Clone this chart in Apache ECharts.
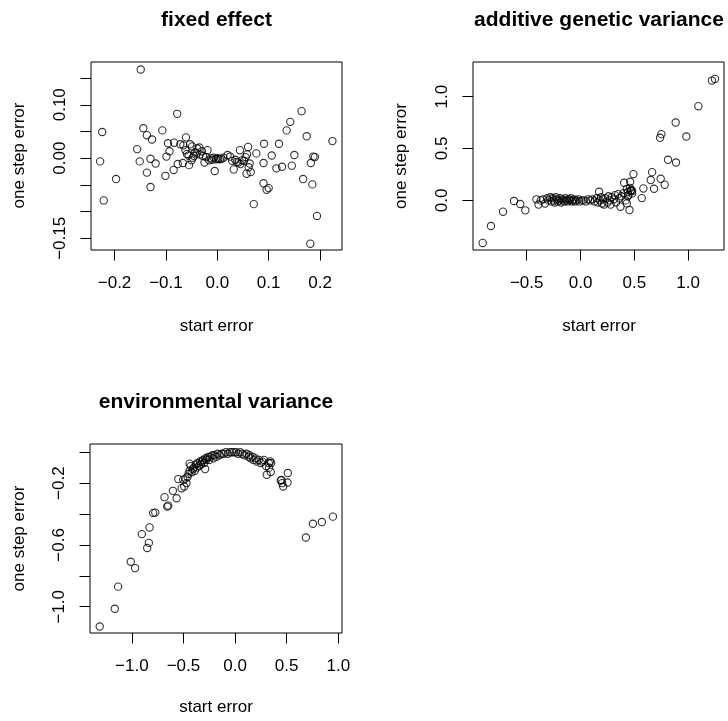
<!DOCTYPE html>
<html>
<head>
<meta charset="utf-8">
<script src="https://cdn.jsdelivr.net/npm/echarts@6/dist/echarts.min.js"></script>
<style>
html,body{margin:0;padding:0;background:#fff;}
#main{width:728px;height:721px;}
</style>
</head>
<body>
<div id="main"></div>
<script>
// ---------- DATA ----------
const titles = ["fixed effect", "additive genetic variance", "environmental variance"];
const xLabelText = "start error";
const yLabelText = "one step error";

// Panel 1: fixed effect
const fixedX = [-0.149,-0.228,-0.224,-0.221,-0.197,-0.156,-0.151,-0.144,-0.137,-0.137,-0.130,-0.130,-0.127,-0.120,-0.107,-0.101,-0.099,-0.096,-0.093,-0.085,-0.084,-0.078,-0.077,-0.072,-0.067,-0.066,-0.061,-0.059,-0.055,-0.053,-0.049,-0.048,-0.043,-0.039,-0.035,-0.034,-0.030,-0.025,-0.022,-0.019,-0.016,-0.012,-0.005,-0.003,0.002,0.005,0.020,0.025,0.029,0.032,0.038,0.044,0.045,0.052,0.057,0.060,0.058,0.061,0.065,0.071,0.076,0.090,0.090,0.091,0.096,0.100,0.106,0.115,0.120,0.126,0.135,0.142,0.145,0.150,0.164,0.167,0.174,0.181,0.182,0.185,0.187,0.190,0.194,0.224,-0.045,-0.040,-0.028,-0.010,-0.007,0.000,0.008,0.012,0.035,0.041,0.048,0.055,-0.056,-0.050,-0.062,0.063];
const fixedY = [0.166,-0.006,0.049,-0.079,-0.039,0.017,-0.006,0.056,-0.027,0.043,-0.001,-0.054,0.035,-0.010,0.052,-0.033,0.003,0.028,0.013,-0.022,0.029,0.083,-0.011,0.026,-0.009,0.024,0.039,0.008,-0.013,0.026,0.022,0.001,0.011,0.018,0.020,0.007,0.013,-0.008,0.002,0.015,-0.004,0.000,-0.024,-0.002,-0.001,-0.002,0.006,0.003,-0.005,-0.021,-0.007,0.015,-0.011,-0.005,-0.029,0.021,0.007,-0.017,-0.026,-0.086,0.009,-0.047,-0.009,0.027,-0.059,-0.056,0.005,-0.019,0.027,-0.016,0.052,0.068,-0.014,0.006,0.088,-0.039,0.041,-0.160,-0.009,-0.049,0.003,0.002,-0.108,0.032,0.004,0.009,0.004,-0.003,0.001,0.000,-0.001,0.001,-0.003,-0.008,-0.004,0.002,0.005,-0.004,0.015,-0.010];

// Panel 2: additive genetic variance
const addX = [-0.909,-0.832,-0.720,-0.618,-0.560,-0.513,0.173,0.371,0.405,0.430,0.445,0.455,0.461,0.492,0.467,0.479,0.569,0.584,0.665,0.652,0.683,0.745,0.782,0.739,0.751,0.813,0.884,0.887,0.983,1.095,1.221,1.249,
  -0.41,-0.39,-0.37,-0.35,-0.33,-0.31,-0.30,-0.28,-0.27,-0.26,-0.25,-0.24,-0.23,-0.22,-0.21,-0.20,-0.19,-0.18,-0.17,-0.16,-0.15,-0.14,-0.13,-0.12,-0.11,-0.10,-0.09,-0.08,-0.07,-0.06,-0.05,-0.04,-0.02,-0.01,0.01,0.03,0.05,0.07,0.09,0.11,0.13,0.15,0.16,0.18,0.19,0.20,0.21,0.22,0.23,0.25,0.26,0.27,0.28,0.29,0.31,0.32,0.33,0.35,0.36,0.38,0.40,0.42,0.43,0.44,0.46,0.47,0.48,0.44];
const addY = [-0.410,-0.247,-0.109,-0.006,-0.035,-0.096,0.083,-0.061,0.170,-0.029,0.051,-0.093,0.179,0.253,0.090,0.067,0.022,0.115,0.272,0.196,0.112,0.208,0.151,0.603,0.638,0.391,0.750,0.365,0.615,0.907,1.154,1.170,
  0.01,-0.04,0.00,0.01,-0.03,0.02,0.00,0.03,-0.01,0.02,0.00,-0.02,0.03,0.01,-0.01,0.00,0.02,-0.02,0.01,0.00,-0.01,0.02,0.00,-0.01,0.01,0.00,0.02,-0.01,0.00,0.01,-0.01,0.00,0.01,-0.01,0.00,0.00,-0.01,0.01,0.00,0.01,-0.01,0.02,-0.02,0.00,0.03,-0.03,0.01,-0.04,0.02,-0.02,0.04,0.00,-0.04,0.03,0.01,0.05,-0.02,0.06,0.02,0.04,0.07,0.00,0.11,0.08,0.12,0.10,0.09,0.04];

// Panel 3: environmental variance
const envX = [-1.311,-1.165,-1.133,-1.010,-0.968,-0.903,-0.835,-0.851,-0.828,-0.793,-0.773,-0.683,-0.657,-0.647,-0.602,-0.566,-0.550,-0.518,-0.502,-0.492,0.265,0.307,0.327,0.346,0.443,0.456,0.466,0.511,0.508,0.686,0.754,0.841,0.948,
  -0.48,-0.47,-0.46,-0.45,-0.44,-0.43,-0.42,-0.41,-0.40,-0.39,-0.38,-0.37,-0.36,-0.35,-0.34,-0.33,-0.32,-0.31,-0.30,-0.29,-0.28,-0.27,-0.26,-0.25,-0.24,-0.22,-0.21,-0.20,-0.18,-0.17,-0.15,-0.13,-0.11,-0.09,-0.07,-0.05,-0.03,-0.01,0.01,0.03,0.05,0.07,0.09,0.11,0.13,0.14,0.15,0.17,0.18,0.20,0.21,0.23,0.25,-0.44,-0.29,0.28,0.30,0.33,0.35,0.34,0.45];
const envY = [-1.128,-1.013,-0.870,-0.709,-0.750,-0.530,-0.587,-0.620,-0.487,-0.393,-0.391,-0.291,-0.352,-0.346,-0.250,-0.298,-0.174,-0.233,-0.178,-0.222,-0.061,-0.146,-0.070,-0.128,-0.183,-0.200,-0.222,-0.135,-0.196,-0.552,-0.463,-0.452,-0.417,
  -0.17,-0.20,-0.16,-0.14,-0.12,-0.09,-0.13,-0.11,-0.10,-0.12,-0.08,-0.10,-0.07,-0.09,-0.06,-0.08,-0.06,-0.05,-0.07,-0.04,-0.05,-0.04,-0.03,-0.05,-0.03,-0.02,-0.04,-0.02,-0.03,-0.01,-0.02,-0.01,-0.01,0.00,-0.01,0.00,0.00,0.00,0.00,-0.01,0.00,-0.01,-0.02,-0.01,-0.03,-0.02,-0.04,-0.03,-0.05,-0.04,-0.06,-0.05,-0.07,-0.074,-0.109,-0.05,-0.09,-0.10,-0.07,-0.06,-0.18];

// Tick values and labels
const fixedXTicks = [-0.2,-0.1,0.0,0.1,0.2];
const fixedXLabels = [-0.2,-0.1,0.0,0.1,0.2];
const fixedYTicks = [-0.15,-0.10,-0.05,0.00,0.05,0.10,0.15];
const fixedYLabels = [-0.15,0.00,0.10];
const addXTicks = [-0.5,0.0,0.5,1.0];
const addYTicks = [0.0,0.5,1.0];
const envXTicks = [-1.0,-0.5,0.0,0.5,1.0];
const envYTicks = [0.0,-0.2,-0.4,-0.6,-0.8,-1.0];
const envYLabels = [-0.2,-0.6,-1.0];

// Axis extents (R style: data range +4%)
const fixedXRange = [-0.2458, 0.2427], fixedYRange = [-0.1718, 0.180];
const addXRange = [-0.999, 1.333], addYRange = [-0.478, 1.333];
const envXRange = [-1.405, 1.036], envYRange = [-1.170, 0.053];

// ---------- CHART ----------
const FONT = "'Liberation Sans', Arial, Helvetica, sans-serif";
const LBL = 17, TTL = 21;
function zip(a, b) { return a.map((v, i) => [v, b[i]]); }
function fmt(dec) {
  return v => { const s = Math.abs(v).toFixed(dec); return (v < -1e-9 ? '\u2212' : '') + s; };
}
const grids = [
  {left: 91, top: 62, width: 251, height: 188},
  {left: 473, top: 62, width: 251, height: 188},
  {left: 90, top: 444, width: 252, height: 189}
];
function xAx(i, rng, ticks, labels, dec) {
  return {
    type: 'value', gridIndex: i, min: rng[0], max: rng[1], position: 'bottom',
    axisLine: {show: false, onZero: false},
    axisTick: {show: true, inside: false, length: 10.5, customValues: ticks, lineStyle: {color: '#000', width: 1}},
    axisLabel: {show: true, customValues: labels, formatter: fmt(dec), color: '#000', fontSize: LBL, fontFamily: FONT, margin: 25, showMinLabel: true, showMaxLabel: true},
    splitLine: {show: false}
  };
}
function yAx(i, rng, ticks, labels, dec) {
  return {
    type: 'value', gridIndex: i, min: rng[0], max: rng[1], position: 'left',
    axisLine: {show: false, onZero: false},
    axisTick: {show: true, inside: false, length: 10.5, customValues: ticks, lineStyle: {color: '#000', width: 1}},
    axisLabel: {show: true, rotate: 90, customValues: labels, formatter: fmt(dec), color: '#000', fontSize: LBL, fontFamily: FONT, margin: 22, showMinLabel: true, showMaxLabel: true},
    splitLine: {show: false}
  };
}
const sym = {type: 'scatter', symbol: 'circle', symbolSize: 7.3, itemStyle: {color: 'rgba(0,0,0,0)', borderColor: '#000', borderWidth: 1.1}, silent: true, animation: false};

function txt(s, x, y, size, bold, rot) {
  return {type: 'text', x: x, y: y, rotation: rot || 0, silent: true,
    style: {text: s, fill: '#000', font: (bold ? 'bold ' : '') + size + 'px ' + FONT, textAlign: 'center', textVerticalAlign: 'middle', align: 'center', verticalAlign: 'middle'}};
}

const option = {
  animation: false,
  backgroundColor: '#fff',
  grid: grids.map(g => Object.assign({show: true, borderColor: '#000', borderWidth: 1, backgroundColor: 'transparent', containLabel: false}, g)),
  xAxis: [
    xAx(0, fixedXRange, fixedXTicks, fixedXLabels, 1),
    xAx(1, addXRange, addXTicks, addXTicks, 1),
    xAx(2, envXRange, envXTicks, envXTicks, 1)
  ],
  yAxis: [
    yAx(0, fixedYRange, fixedYTicks, fixedYLabels, 2),
    yAx(1, addYRange, addYTicks, addYTicks, 1),
    yAx(2, envYRange, envYTicks, envYLabels, 1)
  ],
  series: [
    Object.assign({xAxisIndex: 0, yAxisIndex: 0, data: zip(fixedX, fixedY)}, sym),
    Object.assign({xAxisIndex: 1, yAxisIndex: 1, data: zip(addX, addY)}, sym),
    Object.assign({xAxisIndex: 2, yAxisIndex: 2, data: zip(envX, envY)}, sym)
  ],
  graphic: [
    txt(titles[0], 216.5, 20, TTL, true),
    txt(titles[1], 599, 20, TTL, true),
    txt(titles[2], 216, 402, TTL, true),
    txt(xLabelText, 216.5, 326, LBL, false),
    txt(xLabelText, 599, 326, LBL, false),
    txt(xLabelText, 216, 707, LBL, false),
    txt(yLabelText, 19, 155.5, LBL, false, Math.PI / 2),
    txt(yLabelText, 401.5, 156, LBL, false, Math.PI / 2),
    txt(yLabelText, 19, 538.5, LBL, false, Math.PI / 2)
  ]
};
const chart = echarts.init(document.getElementById('main'), null, {renderer: 'canvas'});
chart.setOption(option);
</script>
</body>
</html>
